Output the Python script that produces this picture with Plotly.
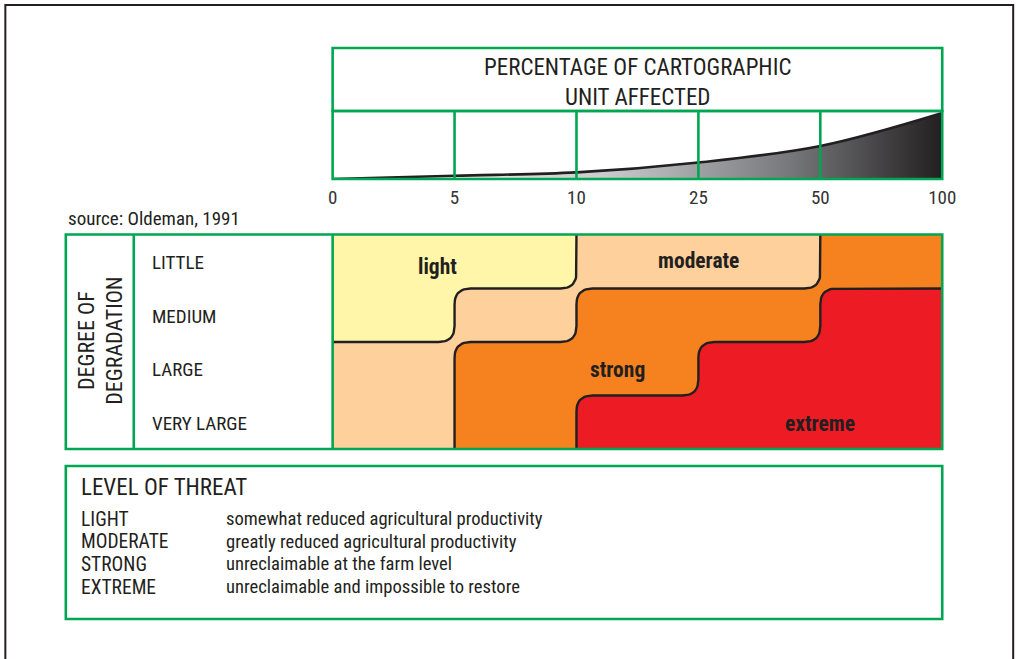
import numpy as np
import plotly.graph_objects as go

# ---------------- data ----------------
tick_labels = ["0", "5", "10", "25", "50", "100"]
affected_pct = [0, 5, 10, 25, 50, 100]

degree_labels = ["LITTLE", "MEDIUM", "LARGE", "VERY LARGE"]
threat_levels = ["light", "moderate", "strong", "extreme"]
threat_colors = ["#FFF6A9", "#FDD09C", "#F5821F", "#ED1C24"]
threat_matrix = [
    [0, 0, 1, 1, 2],
    [0, 1, 2, 2, 3],
    [1, 2, 2, 3, 3],
    [1, 2, 3, 3, 3],
]
threat_label_pos = [(0.86, 0.58), (3.0, 0.47), (2.34, 2.52), (4.0, 3.53)]

legend_names = ["LIGHT", "MODERATE", "STRONG", "EXTREME"]
legend_desc = [
    "somewhat reduced agricultural productivity",
    "greatly reduced agricultural productivity",
    "unreclaimable at the farm level",
    "unreclaimable and impossible to restore",
]

W, H = 1016, 659
FIG_W = 1032
def px(x):
    return (x - 4.15) / (W * 0.9977)
def py(y):
    return 1 - y / H

GREEN = "#00A651"
INK = "#231F20"
FONT = "Liberation Sans Narrow, Roboto Condensed, DejaVu Sans Condensed, Arial Narrow, sans-serif"
GW = 2.6

nrows = len(threat_matrix)
ncols = len(threat_matrix[0])
col_px = (942 - 332) / ncols
row_px = (449 - 235) / nrows
R = 16
rx, ry = R / col_px, R / row_px


def staircase(c):
    pts = []
    for r in range(nrows):
        pts.append((c[r], r))
        pts.append((c[r], r + 1))
    clean = []
    for p in pts:
        if not clean or clean[-1] != p:
            clean.append(p)
    out = [clean[0]]
    for i in range(1, len(clean) - 1):
        a, b, d = out[-1], clean[i], clean[i + 1]
        if (a[0] == b[0] == d[0]) or (a[1] == b[1] == d[1]):
            continue
        out.append(b)
    out.append(clean[-1])
    return out


def rounded(pts, n=14):
    res = [pts[0]]
    for i in range(1, len(pts) - 1):
        P = pts[i]
        A0, C0 = pts[i - 1], pts[i + 1]
        if not (0 < P[0] < ncols and 0 < P[1] < nrows):
            res.append(P)
            continue
        d1 = (np.sign(P[0] - A0[0]), np.sign(P[1] - A0[1]))
        d2 = (np.sign(C0[0] - P[0]), np.sign(C0[1] - P[1]))
        A = (P[0] - d1[0] * rx, P[1] - d1[1] * ry)
        C = (P[0] + d2[0] * rx, P[1] + d2[1] * ry)
        for t in np.linspace(0, 1, n):
            x = (1 - t) ** 2 * A[0] + 2 * (1 - t) * t * P[0] + t ** 2 * C[0]
            y = (1 - t) ** 2 * A[1] + 2 * (1 - t) * t * P[1] + t ** 2 * C[1]
            res.append((x, y))
    res.append(pts[-1])
    return res


def on_edge(p, q):
    return (p[0] == q[0] and p[0] in (0, ncols)) or (p[1] == q[1] and p[1] in (0, nrows))


def first_cols(k):
    c = []
    for r in range(nrows):
        cols = [j for j in range(ncols) if threat_matrix[r][j] >= k]
        c.append(cols[0] if cols else ncols)
    return c


fig = go.Figure()

xi = list(range(len(tick_labels)))
fig.add_trace(go.Scatter(
    x=xi, y=affected_pct, mode="lines",
    line=dict(color=INK, width=2.6, shape="spline", smoothing=1.0),
    fill="tozeroy",
    fillgradient=dict(type="horizontal",
                      colorscale=[[0, "#FFFFFF"], [0.15, "#F2F2F2"], [0.45, "#C9CACC"],
                                  [0.75, "#77787B"], [1, "#231F20"]]),
    xaxis="x", yaxis="y", hoverinfo="skip", showlegend=False,
))

for k in range(len(threat_levels)):
    pts = staircase(first_cols(k))
    poly = rounded(pts) + [(ncols, nrows), (ncols, 0), pts[0]]
    fig.add_trace(go.Scatter(
        x=[p[0] for p in poly], y=[p[1] for p in poly], mode="lines",
        fill="toself", fillcolor=threat_colors[k], line=dict(width=0),
        xaxis="x2", yaxis="y2", hoverinfo="skip", showlegend=False,
    ))

for k in range(1, len(threat_levels)):
    pts = staircase(first_cols(k))
    while len(pts) > 1 and on_edge(pts[0], pts[1]):
        pts = pts[1:]
    while len(pts) > 1 and on_edge(pts[-2], pts[-1]):
        pts = pts[:-1]
    if len(pts) < 2:
        continue
    line = rounded(pts)
    fig.add_trace(go.Scatter(
        x=[p[0] for p in line], y=[p[1] for p in line], mode="lines",
        line=dict(color=INK, width=2.4),
        xaxis="x2", yaxis="y2", hoverinfo="skip", showlegend=False,
    ))

annotations = []
for name, (lx, ly) in zip(threat_levels, threat_label_pos):
    annotations.append(dict(x=lx, y=ly, xref="x2", yref="y2", text="<b>%s</b>" % name,
                            xanchor="center", yanchor="middle",
                            showarrow=False, font=dict(family=FONT, size=21.5, color=INK)))

annotations.append(dict(x=px(637), y=py(83), xref="paper", yref="paper",
                        xanchor="center", yanchor="middle",
                        text="PERCENTAGE OF CARTOGRAPHIC<br>UNIT AFFECTED", showarrow=False,
                        font=dict(family=FONT, size=23, color=INK)))
annotations.append(dict(x=px(65), y=py(218), xref="paper", yref="paper",
                        xanchor="left", yanchor="middle",
                        text="source: Oldeman, 1991", showarrow=False,
                        font=dict(family=FONT, size=19, color=INK)))
annotations.append(dict(x=px(100), y=py(341), xref="paper", yref="paper",
                        xanchor="center", yanchor="middle",
                        text="DEGREE OF<br>DEGRADATION", textangle=-90, showarrow=False,
                        font=dict(family=FONT, size=22, color=INK)))
for i, lab in enumerate(degree_labels):
    annotations.append(dict(x=px(149), y=(i + 0.52), xref="paper", yref="y2",
                            xanchor="left", yanchor="middle",
                            text=lab, showarrow=False,
                            font=dict(family=FONT, size=19, color=INK)))
annotations.append(dict(x=px(78), y=py(488), xref="paper", yref="paper",
                        xanchor="left", yanchor="middle",
                        text="LEVEL OF THREAT", showarrow=False,
                        font=dict(family=FONT, size=23, color=INK)))
for i, (nm, ds) in enumerate(zip(legend_names, legend_desc)):
    yy = py(519 + i * 22.7)
    annotations.append(dict(x=px(78), y=yy, xref="paper", yref="paper",
                            xanchor="left", yanchor="middle",
                            text=nm, showarrow=False, font=dict(family=FONT, size=19.5, color=INK)))
    annotations.append(dict(x=px(223), y=yy, xref="paper", yref="paper",
                            xanchor="left", yanchor="middle",
                            text=ds, showarrow=False, font=dict(family=FONT, size=18.6, color=INK)))

shapes = []
shapes.append(dict(type="rect", xref="paper", yref="paper", x0=px(4.5), x1=px(1013),
                   y0=py(700), y1=py(5), line=dict(color=INK, width=2)))
shapes.append(dict(type="rect", xref="paper", yref="paper", x0=px(332), x1=px(942),
                   y0=py(111), y1=py(48), line=dict(color=GREEN, width=GW), layer="above"))
shapes.append(dict(type="rect", xref="x domain", yref="y domain", x0=0, x1=1, y0=0, y1=1,
                   line=dict(color=GREEN, width=GW), layer="above"))
for v in xi[1:-1]:
    shapes.append(dict(type="line", xref="x", yref="y domain", x0=v, x1=v, y0=0, y1=1,
                       line=dict(color=GREEN, width=GW), layer="above"))
shapes.append(dict(type="rect", xref="paper", yref="paper", x0=px(65), x1=px(942),
                   y0=py(449), y1=py(234.5), line=dict(color=GREEN, width=GW), layer="above"))
for xv in (133, 332):
    shapes.append(dict(type="line", xref="paper", yref="paper", x0=px(xv), x1=px(xv),
                       y0=py(449), y1=py(234.5), line=dict(color=GREEN, width=GW), layer="above"))
shapes.append(dict(type="rect", xref="paper", yref="paper", x0=px(65), x1=px(942),
                   y0=py(619), y1=py(466), line=dict(color=GREEN, width=GW), layer="above"))

fig.update_layout(
    width=FIG_W, height=H, autosize=False,
    margin=dict(l=0, r=0, t=0, b=0),
    paper_bgcolor="white", plot_bgcolor="rgba(0,0,0,0)",
    showlegend=False,
    xaxis=dict(domain=[px(332), px(942)], range=[0, ncols], tickvals=xi, ticktext=tick_labels,
               showgrid=False, zeroline=False, showline=False, ticks="outside", ticklen=1,
               tickcolor="rgba(0,0,0,0)", tickfont=dict(family=FONT, size=19, color="#333333"),
               fixedrange=True),
    yaxis=dict(domain=[py(179), py(111)], range=[0, 103], visible=False, fixedrange=True),
    xaxis2=dict(domain=[px(332), px(942)], range=[0, ncols], visible=False, fixedrange=True),
    yaxis2=dict(domain=[py(449), py(235)], range=[nrows, 0], visible=False, fixedrange=True),
    annotations=annotations,
    shapes=shapes,
)

post = ("var s=document.createElement('style');"
        "s.textContent='html,body{margin:0;padding:0;overflow:hidden;}';"
        "document.head.appendChild(s);")
fig.write_html("out.html", config=dict(displayModeBar=False), post_script=post)
